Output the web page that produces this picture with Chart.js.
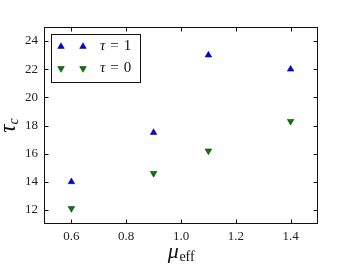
<!DOCTYPE html>
<html>
<head>
<meta charset="utf-8">
<script src="https://cdn.jsdelivr.net/npm/chart.js@4"></script>
<style>
  html, body { margin: 0; padding: 0; background: #fff; }
  #wrap { width: 354px; height: 267px; }
</style>
</head>
<body>
<div id="wrap"><canvas id="c" width="354" height="267"></canvas></div>
<script>
const muEff = [0.6, 0.9, 1.1, 1.4];
const tauC1 = [14.0, 17.5, 23.0, 22.0];
const tauC0 = [12.1, 14.6, 16.2, 18.3];
const xTicks = [0.6, 0.8, 1.0, 1.2, 1.4];
const yTicks = [12, 14, 16, 18, 20, 22, 24];
const seriesLabels = ['1', '0'];

const SERIF = '"Liberation Serif", "DejaVu Serif", serif';

const framePlugin = {
  id: 'frame',
  afterDraw(chart) {
    const ctx = chart.ctx;
    const a = chart.chartArea;
    const xs = chart.scales.x, ys = chart.scales.y;
    ctx.save();
    ctx.strokeStyle = '#111';
    ctx.lineWidth = 1;
    const L = Math.round(a.left) + 0.5, R = Math.round(a.right) - 0.5;
    const T = Math.round(a.top) + 0.5, B = Math.round(a.bottom) - 0.5;
    ctx.strokeRect(L, T, R - L, B - T);
    ctx.beginPath();
    xs.ticks.forEach(t => {
      const px = Math.round(xs.getPixelForValue(t.value)) + 0.5;
      ctx.moveTo(px, B); ctx.lineTo(px, B - 4);
      ctx.moveTo(px, T); ctx.lineTo(px, T + 4);
    });
    ys.ticks.forEach(t => {
      const py = Math.round(ys.getPixelForValue(t.value)) + 0.5;
      ctx.moveTo(L, py); ctx.lineTo(L + 4, py);
      ctx.moveTo(R, py); ctx.lineTo(R - 4, py);
    });
    ctx.stroke();

    // axis titles
    ctx.fillStyle = '#111';
    ctx.textBaseline = 'alphabetic';
    ctx.textAlign = 'left';
    // x title: mu_eff
    const f1 = 'italic 22px ' + SERIF, f2 = '14px ' + SERIF;
    ctx.font = f1; const wMu = ctx.measureText('μ').width;
    ctx.font = f2; const wEff = ctx.measureText('eff').width;
    const x0 = (a.left + a.right) / 2 - (wMu + wEff) / 2;
    ctx.font = f1;
    ctx.fillText('μ', x0, 258);
    ctx.font = f2; ctx.fillText('eff', x0 + wMu + 0.5, 261);

    // y title: tau_c
    ctx.save();
    ctx.translate(15, (a.top + a.bottom) / 2);
    ctx.rotate(-Math.PI / 2);
    const g1 = 'italic 23px ' + SERIF, g2 = 'italic 14px ' + SERIF;
    ctx.font = g1; const wT = ctx.measureText('τ').width;
    ctx.font = g2; const wc = ctx.measureText('c').width;
    const s = -(wT + wc) / 2;
    ctx.font = g1; ctx.fillText('τ', s, 0);
    ctx.font = g2; ctx.fillText('c', s + wT, 3);
    ctx.restore();

    // legend frame
    const lx = 51.5, ly = 34.5, lw = 89, lh = 48;
    ctx.fillStyle = '#fff';
    ctx.fillRect(lx, ly, lw, lh);
    ctx.strokeStyle = '#111';
    ctx.strokeRect(lx, ly, lw, lh);

    // legend entries
    const rowsY = [46.5, 68.5];
    chart.data.datasets.forEach((ds, i) => {
      const y = rowsY[i];
      ctx.fillStyle = ds.backgroundColor;
      ctx.strokeStyle = ds.borderColor;
      ctx.lineWidth = ds.borderWidth;
      [61, 83].forEach(mx => {
        Chart.helpers.drawPoint(ctx, {
          pointStyle: 'triangle', radius: ds.pointRadius, rotation: ds.pointRotation,
          borderWidth: ds.borderWidth
        }, mx, y);
      });
      ctx.fillStyle = '#111';
      ctx.textBaseline = 'middle';
      ctx.textAlign = 'left';
      ctx.font = 'italic 15px ' + SERIF;
      const wt = ctx.measureText('τ').width;
      ctx.fillText('τ', 100, y);
      ctx.font = '15px ' + SERIF;
      ctx.fillText('=', 100 + wt + 5, y);
      const we = ctx.measureText('=').width;
      ctx.fillText(seriesLabels[i], 100 + wt + 5 + we + 5, y);
    });
    ctx.restore();
  }
};

new Chart(document.getElementById('c'), {
  type: 'scatter',
  data: {
    datasets: [
      {
        label: 'τ = 1',
        data: muEff.map((x, i) => ({ x, y: tauC1[i] })),
        pointStyle: 'triangle', pointRadius: 3.8, pointRotation: 0,
        backgroundColor: '#0000ff', borderColor: '#000033', borderWidth: 0.5
      },
      {
        label: 'τ = 0',
        data: muEff.map((x, i) => ({ x, y: tauC0[i] })),
        pointStyle: 'triangle', pointRadius: 3.8, pointRotation: 180,
        backgroundColor: '#008000', borderColor: '#001a00', borderWidth: 0.5
      }
    ]
  },
  options: {
    responsive: false,
    animation: false,
    devicePixelRatio: 1,
    layout: { padding: { left: 0, top: 27, right: 36, bottom: 0 } },
    plugins: { legend: { display: false }, tooltip: { enabled: false } },
    scales: {
      x: {
        type: 'linear', min: 0.5, max: 1.5,
        afterBuildTicks: s => { s.ticks = xTicks.map(v => ({ value: v })); },
        afterFit: s => { s.height = 43; },
        grid: { display: false, drawTicks: false },
        border: { display: false },
        ticks: {
          padding: 5, color: '#222', font: { family: SERIF, size: 13 },
          callback: v => Number(v).toFixed(1), maxRotation: 0
        }
      },
      y: {
        type: 'linear', min: 11, max: 25,
        afterBuildTicks: s => { s.ticks = yTicks.map(v => ({ value: v })); },
        afterFit: s => { s.width = 44; },
        grid: { display: false, drawTicks: false },
        border: { display: false },
        ticks: {
          padding: 6, color: '#222', font: { family: SERIF, size: 13 },
          callback: v => String(v)
        }
      }
    }
  },
  plugins: [framePlugin]
});
</script>
</body>
</html>
